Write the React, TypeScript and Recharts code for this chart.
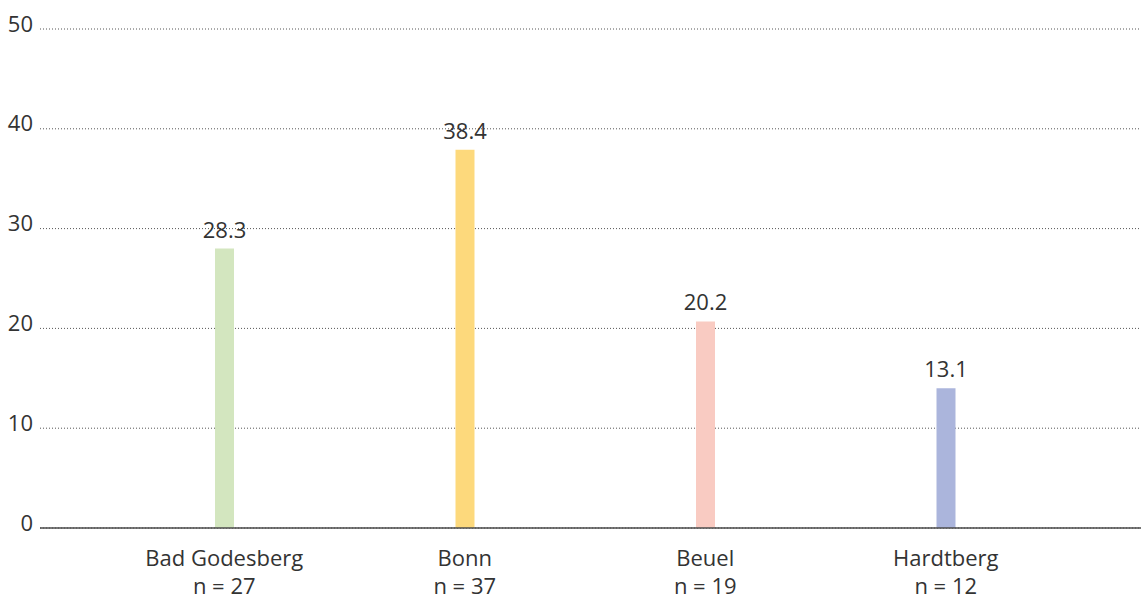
import React from "react";
import { BarChart, Bar, XAxis, YAxis, CartesianGrid, Cell, LabelList } from "recharts";

const categories = ["Bad Godesberg", "Bonn", "Beuel", "Hardtberg"];
const sampleSizes = ["n = 27", "n = 37", "n = 19", "n = 12"];
const barValues = [28.0, 37.9, 20.7, 14.0];
const valueLabels = ["28.3", "38.4", "20.2", "13.1"];
const barColors = ["#d3e6bf", "#fdd97c", "#f9cbc2", "#abb5dc"];
const yTicks = [0, 10, 20, 30, 40, 50];

const data = categories.map((c, i) => ({
  name: c,
  n: sampleSizes[i],
  value: barValues[i],
  label: valueLabels[i],
}));

const FONT = "'Open Sans', 'DejaVu Sans', sans-serif";
const TEXT = "#333333";
const WEIGHT = 400;

const XTick = (props: any) => {
  const { x, y, payload, index } = props;
  return (
    <g>
      <text x={x} y={y + 38} textAnchor="middle" fill={TEXT} fontSize={22} fontWeight={WEIGHT} fontFamily={FONT}>
        {payload.value}
      </text>
      <text x={x} y={y + 66} textAnchor="middle" fill={TEXT} fontSize={22} fontWeight={WEIGHT} fontFamily={FONT}>
        {sampleSizes[index]}
      </text>
    </g>
  );
};

const YTick = (props: any) => {
  const { x, y, payload } = props;
  return (
    <text x={x} y={y + 2.5} textAnchor="end" fill={TEXT} fontSize={22} fontWeight={WEIGHT} fontFamily={FONT}>
      {payload.value}
    </text>
  );
};

const ValueLabel = (props: any) => {
  const { x, y, width, value } = props;
  return (
    <text x={x + width / 2} y={y - 11} textAnchor="middle" fill={TEXT} fontSize={22} fontWeight={WEIGHT} fontFamily={FONT}>
      {value}
    </text>
  );
};

export default function App() {
  return (
    <div style={{ position: "absolute", left: 0, top: 0, background: "#fff" }}>
      <BarChart
        width={1141}
        height={598}
        data={data}
        margin={{ top: 29, right: 0, bottom: 0, left: 0 }}
        barSize={19}
      >
        <CartesianGrid vertical={false} stroke="#555" strokeDasharray="1 2" />
        <XAxis
          dataKey="name"
          height={70}
          tickLine={false}
          tickSize={0}
          tickMargin={0}
          axisLine={{ stroke: "#4a4a4a", strokeWidth: 1.5 }}
          padding={{ left: 64, right: 75 }}
          tick={<XTick />}
          interval={0}
        />
        <YAxis
          width={40}
          domain={[0, 50]}
          ticks={yTicks}
          axisLine={false}
          tickLine={false}
          tickSize={0}
          tickMargin={7}
          tick={<YTick />}
        />
        <Bar dataKey="value" isAnimationActive={false}>
          {data.map((d, i) => (
            <Cell key={d.name} fill={barColors[i]} />
          ))}
          <LabelList dataKey="label" content={<ValueLabel />} />
        </Bar>
      </BarChart>
    </div>
  );
}
